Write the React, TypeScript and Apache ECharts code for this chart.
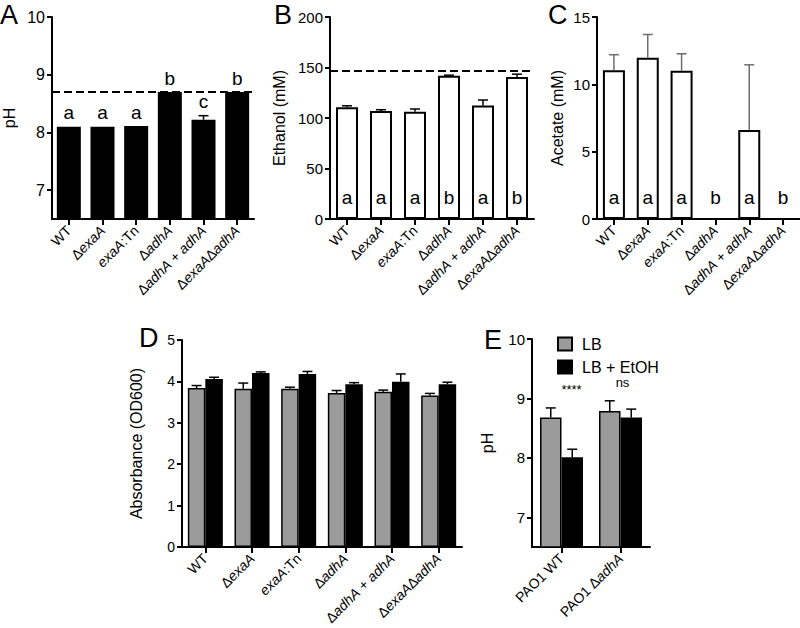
import React, { useEffect, useRef } from "react";
import * as echarts from "echarts";

const FONT = '"Liberation Sans", Arial, Helvetica, sans-serif';

// Shared strain categories (panels A–D)
const strains = ["WT", "ΔexaA", "exaA:Tn", "ΔadhA", "ΔadhA + adhA", "ΔexaAΔadhA"];

// Panel A – pH
const phValues = [8.1, 8.1, 8.11, 8.7, 8.22, 8.7];
const phErrors = [0, 0, 0, 0, 0.07, 0];
const phLetters = ["a", "a", "a", "b", "c", "b"];
const phReference = 8.7;
const phTicks = [7, 8, 9, 10];

// Panel B – Ethanol (mM)
const ethanolValues = [110.6, 106.9, 106.2, 141.8, 112.5, 140.5];
const ethanolErrors = [1.5, 1.3, 2.7, 0.6, 5.3, 2.9];
const ethanolLetters = ["a", "a", "a", "b", "a", "b"];
const ethanolReference = 147;

// Panel C – Acetate (mM)
const acetateValues = [11.05, 11.97, 11.0, 0, 6.6, 0];
const acetateErrors = [1.15, 1.73, 1.27, 0, 4.85, 0];
const acetateLetters = ["a", "a", "a", "b", "a", "b"];

// Panel D – Absorbance (OD600)
const odLB = [3.84, 3.82, 3.82, 3.72, 3.75, 3.66];
const odLBErr = [0.06, 0.14, 0.04, 0.06, 0.04, 0.05];
const odEtOH = [4.06, 4.2, 4.18, 3.93, 3.99, 3.93];
const odEtOHErr = [0.04, 0.03, 0.06, 0.04, 0.19, 0.05];

// Panel E – pH of PAO1 strains
const paoStrains = ["PAO1 WT", "PAO1 ΔadhA"];
const paoLB = [8.68, 8.79];
const paoLBErr = [0.16, 0.17];
const paoEtOH = [8.01, 8.68];
const paoEtOHErr = [0.135, 0.14];
const paoSignif = ["****", "ns"];

const GRAY = "#9b9b9b";

const fmt = (s: string) => s.replace(/(exaA|adhA)/g, "{i|$1}");

function xCat(gridIndex: number, data: string[], fontSize = 14) {
  return {
    type: "category",
    gridIndex,
    data,
    boundaryGap: true,
    axisLine: { show: true, onZero: false, lineStyle: { color: "#000", width: 2 } },
    axisTick: { show: true, alignWithLabel: true, length: 6, lineStyle: { color: "#000", width: 2 } },
    axisLabel: {
      show: true,
      rotate: 45,
      margin: 9,
      interval: 0,
      color: "#000",
      fontSize,
      fontFamily: FONT,
      formatter: fmt,
      rich: { i: { fontStyle: "italic", fontSize, fontFamily: FONT, color: "#000" } },
    },
    splitLine: { show: false },
  };
}

function yVal(
  gridIndex: number,
  min: number,
  max: number,
  interval: number | undefined,
  name: string,
  nameGap: number,
  fontSize: number,
  custom?: number[]
) {
  const axisLabel: any = { show: true, color: "#000", fontSize, fontFamily: FONT, margin: 7 };
  const axisTick: any = { show: true, inside: false, length: 5, lineStyle: { color: "#000", width: 2 } };
  if (custom) {
    axisLabel.customValues = custom;
    axisTick.customValues = custom;
  }
  const ax: any = {
    type: "value",
    gridIndex,
    min,
    max,
    name,
    nameLocation: "middle",
    nameGap,
    nameTextStyle: { color: "#000", fontSize: 16, fontFamily: FONT },
    axisLine: { show: true, onZero: false, lineStyle: { color: "#000", width: 2 } },
    axisTick,
    axisLabel,
    splitLine: { show: false },
  };
  if (interval !== undefined) ax.interval = interval;
  return ax;
}

function errorBars(idx: number, values: number[], errors: number[], dx: number, color: string, capHalf = 5) {
  return {
    type: "custom",
    xAxisIndex: idx,
    yAxisIndex: idx,
    z: 4,
    silent: true,
    encode: { x: 0, y: 1 },
    data: values.map((v, i) => [i, v, errors[i]]),
    renderItem: (_params: any, api: any) => {
      const e = api.value(2);
      if (!e) return null;
      const i = api.value(0);
      const v = api.value(1);
      const p0 = api.coord([i, v]);
      const p1 = api.coord([i, v + e]);
      const x = p0[0] + dx;
      return {
        type: "group",
        children: [
          { type: "line", shape: { x1: x, y1: p0[1], x2: x, y2: p1[1] }, style: { stroke: color, lineWidth: 1.5 } },
          {
            type: "line",
            shape: { x1: x - capHalf, y1: p1[1], x2: x + capHalf, y2: p1[1] },
            style: { stroke: color, lineWidth: 1.5 },
          },
        ],
      };
    },
  };
}

function textMarks(idx: number, positions: number[], texts: string[], dy: number, fontSize: number, dxs?: number[]) {
  return {
    type: "custom",
    xAxisIndex: idx,
    yAxisIndex: idx,
    z: 6,
    silent: true,
    encode: { x: 0, y: 1 },
    data: positions.map((p, i) => [i, p]),
    renderItem: (params: any, api: any) => {
      const i = params.dataIndex;
      const pt = api.coord([api.value(0), api.value(1)]);
      return {
        type: "text",
        x: pt[0] + (dxs ? dxs[i] : 0),
        y: pt[1] - dy,
        style: {
          text: texts[i],
          fill: "#000",
          fontSize,
          fontFamily: FONT,
          align: "center",
          verticalAlign: "middle",
        },
      };
    },
  };
}

function refLine(value: number) {
  return {
    silent: true,
    symbol: "none",
    label: { show: false },
    lineStyle: { type: [8, 4], color: "#000", width: 2 },
    data: [{ yAxis: value }],
  };
}

export default function App() {
  const ref = useRef<HTMLDivElement>(null);

  useEffect(() => {
    if (!ref.current) return;
    const chart = echarts.init(ref.current, undefined, { renderer: "svg" });

    const sumTop = (a: number[], b: number[]) => a.map((v, i) => v + b[i]);
    const paoTop = paoLB.map((v, i) => Math.max(v + paoLBErr[i], paoEtOH[i] + paoEtOHErr[i]));

    const option: any = {
      animation: false,
      backgroundColor: "#fff",
      textStyle: { fontFamily: FONT },
      grid: [
        { left: 50, top: 17, width: 204, height: 202, containLabel: false },
        { left: 330, top: 17, width: 204, height: 202, containLabel: false },
        { left: 597, top: 17, width: 204, height: 202, containLabel: false },
        { left: 182, top: 340, width: 280, height: 207, containLabel: false },
        { left: 532, top: 339, width: 118, height: 208, containLabel: false },
      ],
      xAxis: [xCat(0, strains), xCat(1, strains), xCat(2, strains), xCat(3, strains), xCat(4, paoStrains)],
      yAxis: [
        yVal(0, 6.5, 10, undefined, "pH", 35, 16, phTicks),
        yVal(1, 0, 200, 50, "Ethanol (mM)", 43, 15),
        yVal(2, 0, 15, 5, "Acetate (mM)", 32, 15),
        yVal(3, 0, 5, 1, "Absorbance (OD600)", 38, 14),
        yVal(4, 6.5, 10, undefined, "pH", 37, 15, phTicks),
      ],
      legend: {
        show: true,
        data: ["LB", "LB + EtOH"],
        orient: "vertical",
        left: 552,
        top: 331,
        icon: "rect",
        itemWidth: 14,
        itemHeight: 13,
        itemGap: 7,
        selectedMode: false,
        textStyle: { fontSize: 16, fontFamily: FONT, color: "#000", lineHeight: 16, padding: [0, 0, 0, 5] },
      },
      series: [
        // A
        {
          type: "bar",
          name: "pH",
          xAxisIndex: 0,
          yAxisIndex: 0,
          barWidth: 24,
          data: phValues,
          itemStyle: { color: "#000" },
          markLine: refLine(phReference),
        },
        errorBars(0, phValues, phErrors, 0, "#000"),
        textMarks(0, sumTop(phValues, phErrors), phLetters, 14, 19),
        // B
        {
          type: "bar",
          name: "Ethanol",
          xAxisIndex: 1,
          yAxisIndex: 1,
          barWidth: 22,
          data: ethanolValues,
          itemStyle: { color: "#fff", borderColor: "#000", borderWidth: 2 },
          markLine: refLine(ethanolReference),
        },
        errorBars(1, ethanolValues, ethanolErrors, 0, "#000"),
        textMarks(1, ethanolValues.map(() => 0), ethanolLetters, 22, 19),
        // C
        {
          type: "bar",
          name: "Acetate",
          xAxisIndex: 2,
          yAxisIndex: 2,
          barWidth: 22,
          data: acetateValues,
          itemStyle: { color: "#fff", borderColor: "#000", borderWidth: 2 },
        },
        errorBars(2, acetateValues, acetateErrors, 0, "#6e6e6e"),
        textMarks(2, acetateValues.map(() => 0), acetateLetters, 22, 19),
        // D
        {
          type: "bar",
          name: "LB",
          xAxisIndex: 3,
          yAxisIndex: 3,
          barWidth: 17.5,
          barGap: "0%",
          data: odLB,
          itemStyle: { color: GRAY, borderColor: "#000", borderWidth: 1.5 },
        },
        {
          type: "bar",
          name: "LB + EtOH",
          xAxisIndex: 3,
          yAxisIndex: 3,
          barWidth: 17.5,
          barGap: "0%",
          data: odEtOH,
          itemStyle: { color: "#000", borderColor: "#000", borderWidth: 1.5 },
        },
        errorBars(3, odLB, odLBErr, -8.75, "#000", 5),
        errorBars(3, odEtOH, odEtOHErr, 8.75, "#000", 5),
        // E
        {
          type: "bar",
          name: "LB",
          xAxisIndex: 4,
          yAxisIndex: 4,
          barWidth: 21.5,
          barGap: "0%",
          data: paoLB,
          itemStyle: { color: GRAY, borderColor: "#000", borderWidth: 1.5 },
        },
        {
          type: "bar",
          name: "LB + EtOH",
          xAxisIndex: 4,
          yAxisIndex: 4,
          barWidth: 21.5,
          barGap: "0%",
          data: paoEtOH,
          itemStyle: { color: "#000", borderColor: "#000", borderWidth: 1.5 },
        },
        errorBars(4, paoLB, paoLBErr, -10.75, "#000", 5),
        errorBars(4, paoEtOH, paoEtOHErr, 10.75, "#000", 5),
        textMarks(4, paoTop, paoSignif, 18, 13, [10, 2]),
      ],
      graphic: [
        { type: "text", left: 0, top: 1, style: { text: "A", fontSize: 27, fontFamily: FONT, fill: "#000" } },
        { type: "text", left: 274, top: 1, style: { text: "B", fontSize: 27, fontFamily: FONT, fill: "#000" } },
        { type: "text", left: 548, top: 1, style: { text: "C", fontSize: 27, fontFamily: FONT, fill: "#000" } },
        { type: "text", left: 139, top: 324, style: { text: "D", fontSize: 27, fontFamily: FONT, fill: "#000" } },
        { type: "text", left: 484, top: 326, style: { text: "E", fontSize: 27, fontFamily: FONT, fill: "#000" } },
      ],
    };

    chart.setOption(option);
    return () => chart.dispose();
  }, []);

  return (
    <div
      ref={ref}
      style={{ position: "absolute", left: 0, top: 0, width: 800, height: 628, background: "#fff" }}
    />
  );
}
